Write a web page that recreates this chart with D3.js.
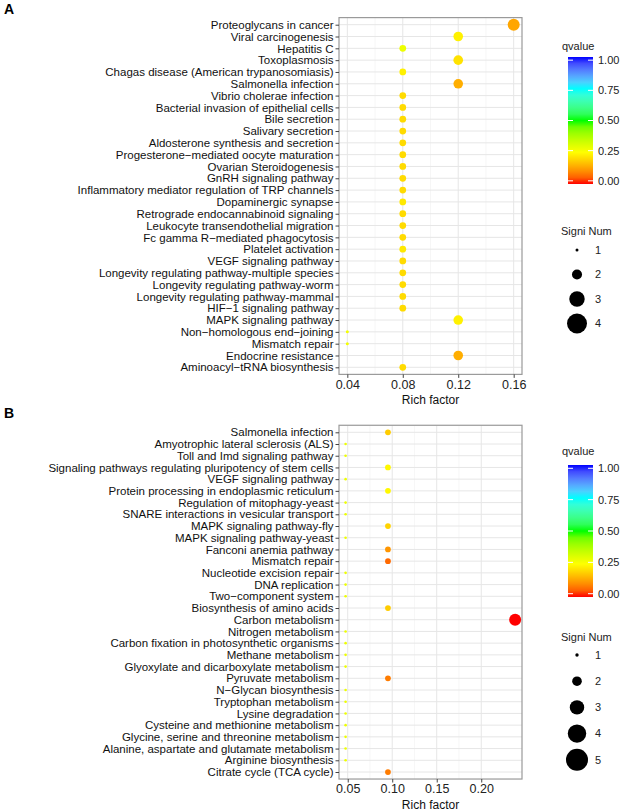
<!DOCTYPE html>
<html lang="en">
<head>
<meta charset="UTF-8">
<title>KEGG enrichment dot plots</title>
<script src="https://d3js.org/d3.v7.min.js"></script>
<style>
    body { margin: 0; background: #fff; }
    svg { font-family: "Liberation Sans", Arial, sans-serif; }
    .ylab { font-size: 11.5px; fill: #111; }
    .xlab { font-size: 12.5px; fill: #222; }
    .title { font-size: 12px; fill: #111; }
    .leg { font-size: 11px; fill: #222; }
    .panel-letter { font-size: 14px; font-weight: bold; }
</style>
</head>
<body>
<svg id="chart" width="627" height="812"></svg>
<script>
// ---- Panel A data ----
var pathwaysA = [
    "Proteoglycans in cancer", "Viral carcinogenesis", "Hepatitis C", "Toxoplasmosis",
    "Chagas disease (American trypanosomiasis)", "Salmonella infection", "Vibrio cholerae infection",
    "Bacterial invasion of epithelial cells", "Bile secretion", "Salivary secretion",
    "Aldosterone synthesis and secretion", "Progesterone\u2212mediated oocyte maturation",
    "Ovarian Steroidogenesis", "GnRH signaling pathway",
    "Inflammatory mediator regulation of TRP channels", "Dopaminergic synapse",
    "Retrograde endocannabinoid signaling", "Leukocyte transendothelial migration",
    "Fc gamma R\u2212mediated phagocytosis", "Platelet activation", "VEGF signaling pathway",
    "Longevity regulating pathway-multiple species", "Longevity regulating pathway-worm",
    "Longevity regulating pathway-mammal", "HIF\u22121 signaling pathway", "MAPK signaling pathway",
    "Non\u2212homologous end\u2212joining", "Mismatch repair", "Endocrine resistance",
    "Aminoacyl\u2212tRNA biosynthesis"
];
var richA = [0.16, 0.12, 0.08, 0.12, 0.08, 0.12, 0.08, 0.08, 0.08, 0.08,
             0.08, 0.08, 0.08, 0.08, 0.08, 0.08, 0.08, 0.08, 0.08, 0.08,
             0.08, 0.08, 0.08, 0.08, 0.08, 0.12, 0.04, 0.04, 0.12, 0.08];
var countA = [4, 3, 2, 3, 2, 3, 2, 2, 2, 2, 2, 2, 2, 2, 2, 2, 2, 2, 2, 2,
              2, 2, 2, 2, 2, 3, 1, 1, 3, 2];
var qA = [0.13, 0.23, 0.28, 0.21, 0.23, 0.14, 0.2, 0.2, 0.2, 0.2,
          0.2, 0.2, 0.2, 0.2, 0.2, 0.22, 0.2, 0.2, 0.2, 0.22,
          0.2, 0.2, 0.2, 0.2, 0.2, 0.23, 0.27, 0.27, 0.14, 0.2];
var xTicksA = [0.04, 0.08, 0.12, 0.16];
var sizeLevelsA = [1, 2, 3, 4];

// ---- Panel B data ----
var pathwaysB = [
    "Salmonella infection", "Amyotrophic lateral sclerosis (ALS)", "Toll and Imd signaling pathway",
    "Signaling pathways regulating pluripotency of stem cells", "VEGF signaling pathway",
    "Protein processing in endoplasmic reticulum", "Regulation of mitophagy-yeast",
    "SNARE interactions in vesicular transport", "MAPK signaling pathway-fly",
    "MAPK signaling pathway-yeast", "Fanconi anemia pathway", "Mismatch repair",
    "Nucleotide excision repair", "DNA replication", "Two\u2212component system",
    "Biosynthesis of amino acids", "Carbon metabolism", "Nitrogen metabolism",
    "Carbon fixation in photosynthetic organisms", "Methane metabolism",
    "Glyoxylate and dicarboxylate metabolism", "Pyruvate metabolism", "N\u2212Glycan biosynthesis",
    "Tryptophan metabolism", "Lysine degradation", "Cysteine and methionine metabolism",
    "Glycine, serine and threonine metabolism", "Alanine, aspartate and glutamate metabolism",
    "Arginine biosynthesis", "Citrate cycle (TCA cycle)"
];
var richB = [0.0952, 0.0476, 0.0476, 0.0952, 0.0476, 0.0952, 0.0476, 0.0476, 0.0952, 0.0476,
             0.0952, 0.0952, 0.0476, 0.0476, 0.0476, 0.0952, 0.2381, 0.0476, 0.0476, 0.0476,
             0.0476, 0.0952, 0.0476, 0.0476, 0.0476, 0.0476, 0.0476, 0.0476, 0.0476, 0.0952];
var countB = [2, 1, 1, 2, 1, 2, 1, 1, 2, 1, 2, 2, 1, 1, 1, 2, 5, 1, 1, 1,
              1, 2, 1, 1, 1, 1, 1, 1, 1, 2];
var qB = [0.18, 0.28, 0.28, 0.24, 0.28, 0.24, 0.28, 0.28, 0.19, 0.28,
          0.11, 0.06, 0.28, 0.28, 0.28, 0.18, 0.0, 0.28, 0.28, 0.28,
          0.28, 0.08, 0.28, 0.28, 0.28, 0.28, 0.28, 0.28, 0.28, 0.08];
var xTicksB = [0.05, 0.10, 0.15, 0.20];
var sizeLevelsB = [1, 2, 3, 4, 5];

// ---- shared ----
var qTicks = [0, 0.25, 0.5, 0.75, 1];
var qColors = ["#ff0000", "#ffff00", "#00ff00", "#00ffff", "#0000ff"];

var color = d3.scaleLinear().domain(qTicks).range(qColors).interpolate(d3.interpolateLab);
var svg = d3.select("#chart");

// gradient for colour bars
var grad = svg.append("defs").append("linearGradient")
    .attr("id", "qgrad").attr("x1", 0).attr("y1", 1).attr("x2", 0).attr("y2", 0);
d3.range(0, 1.0001, 0.05).forEach(function(t) {
    grad.append("stop").attr("offset", t).attr("stop-color", color(t));
});

function drawPanel(cfg) {
    var g = svg.append("g");
    var left = 339, right = 522;

    var x = d3.scaleLinear().domain(cfg.xDomain).range([left, right]);
    var y = d3.scalePoint().domain(cfg.pathways).range([cfg.firstRow, cfg.lastRow]);
    var r = d3.scaleSqrt().domain([1, d3.max(cfg.sizes)]).range(cfg.rRange);
    var step = y.step();
    var top = cfg.firstRow - step * 0.6, bottom = cfg.lastRow + step * 0.6;

    // panel letter
    g.append("text").attr("class", "panel-letter").attr("x", 4).attr("y", cfg.letterY).text(cfg.letter);

    // grid
    var minor = [];
    for (var i = 0; i < cfg.xTicks.length - 1; i++) minor.push((cfg.xTicks[i] + cfg.xTicks[i + 1]) / 2);
    g.selectAll(".minor").data(minor).enter().append("line")
        .attr("x1", d => x(d)).attr("x2", d => x(d)).attr("y1", top).attr("y2", bottom)
        .attr("stroke", "#f0f0f0").attr("stroke-width", 0.6);
    g.selectAll(".vgrid").data(cfg.xTicks).enter().append("line")
        .attr("x1", d => x(d)).attr("x2", d => x(d)).attr("y1", top).attr("y2", bottom)
        .attr("stroke", "#e6e6e6").attr("stroke-width", 1);
    g.selectAll(".hgrid").data(cfg.pathways).enter().append("line")
        .attr("x1", left).attr("x2", right).attr("y1", d => y(d)).attr("y2", d => y(d))
        .attr("stroke", "#e6e6e6").attr("stroke-width", 1);

    // points
    g.selectAll(".dot").data(cfg.pathways).enter().append("circle")
        .attr("cx", (d, i) => x(cfg.rich[i]))
        .attr("cy", d => y(d))
        .attr("r", (d, i) => r(cfg.count[i]))
        .attr("fill", (d, i) => color(cfg.q[i]));

    // border
    g.append("rect").attr("x", left).attr("y", top).attr("width", right - left).attr("height", bottom - top)
        .attr("fill", "none").attr("stroke", "#9a9a9a").attr("stroke-width", 1.2);

    // y axis
    var yAxis = g.append("g").attr("transform", "translate(" + left + ",0)")
        .call(d3.axisLeft(y).tickSize(3.5).tickPadding(2));
    yAxis.select(".domain").remove();
    yAxis.selectAll("line").attr("stroke", "#444");
    yAxis.selectAll("text").attr("class", "ylab").attr("font-family", null).attr("font-size", null).attr("fill", null);

    // x axis
    var xAxis = g.append("g").attr("transform", "translate(0," + bottom + ")")
        .call(d3.axisBottom(x).tickValues(cfg.xTicks).tickFormat(d3.format(".2f")).tickSize(3.5).tickPadding(2));
    xAxis.select(".domain").remove();
    xAxis.selectAll("line").attr("stroke", "#444");
    xAxis.selectAll("text").attr("class", "xlab").attr("font-family", null).attr("font-size", null).attr("fill", null);

    g.append("text").attr("class", "title").attr("x", (left + right) / 2).attr("y", bottom + 30)
        .attr("text-anchor", "middle").text("Rich factor");

    // colour legend
    var lx = 568, barW = 25;
    g.append("text").attr("class", "leg").attr("x", lx - 6).attr("y", cfg.qTitleY).text("qvalue");
    g.append("rect").attr("x", lx).attr("y", cfg.barTop).attr("width", barW).attr("height", cfg.barBottom - cfg.barTop)
        .attr("fill", "url(#qgrad)");
    var inset = (cfg.barBottom - cfg.barTop) / 40;
    var qy = d3.scaleLinear().domain([0, 1]).range([cfg.barBottom - inset, cfg.barTop + inset]);
    qTicks.forEach(function(t) {
        g.append("line").attr("x1", lx).attr("x2", lx + 5).attr("y1", qy(t)).attr("y2", qy(t))
            .attr("stroke", "#fff").attr("stroke-width", 1);
        g.append("line").attr("x1", lx + barW - 5).attr("x2", lx + barW).attr("y1", qy(t)).attr("y2", qy(t))
            .attr("stroke", "#fff").attr("stroke-width", 1);
        g.append("text").attr("class", "leg").attr("x", lx + barW + 5).attr("y", qy(t)).attr("dy", "0.35em")
            .text(d3.format(".2f")(t));
    });

    // size legend
    var lr = d3.scaleSqrt().domain([1, d3.max(cfg.sizes)]).range(cfg.legRRange);
    g.append("text").attr("class", "leg").attr("x", lx - 7).attr("y", cfg.sTitleY).text("Signi Num");
    cfg.sizes.forEach(function(s, i) {
        var cy = cfg.sFirstY + i * cfg.sStep;
        g.append("circle").attr("cx", 577).attr("cy", cy).attr("r", lr(s)).attr("fill", "#000");
        g.append("text").attr("class", "leg").attr("x", 595).attr("y", cy).attr("dy", "0.35em").text(s);
    });
}

drawPanel({
    letter: "A", letterY: 14,
    pathways: pathwaysA, rich: richA, count: countA, q: qA, sizes: sizeLevelsA,
    xDomain: [0.034, 0.166], xTicks: xTicksA,
    firstRow: 24.7, lastRow: 367.3, rRange: [1.5, 6], legRRange: [1.5, 10],
    qTitleY: 50, barTop: 57, barBottom: 184,
    sTitleY: 235, sFirstY: 250, sStep: 24.5
});

drawPanel({
    letter: "B", letterY: 418,
    pathways: pathwaysB, rich: richB, count: countB, q: qB, sizes: sizeLevelsB,
    xDomain: [0.0402, 0.2458], xTicks: xTicksB,
    firstRow: 432.3, lastRow: 772, rRange: [1.3, 6], legRRange: [1.7, 11],
    qTitleY: 455, barTop: 465, barBottom: 597,
    sTitleY: 641, sFirstY: 655, sStep: 26.2
});
</script>
</body>
</html>
